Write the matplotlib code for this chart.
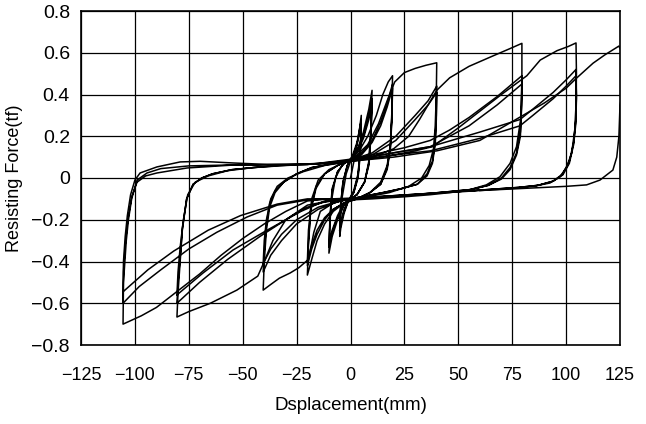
import matplotlib
matplotlib.use("Agg")
import matplotlib.pyplot as plt

# ---- data (displacement mm, resisting force tf), traced per amplitude group ----
disp_a5 = [0, 2, 4, 5, 4.6, 3.5, 1.5, -1, -3, -4.5, -5,
           -4.6, -3.5, -1.5, 1, 3, 4.5, 5, 4.6, 3.5, 1.5, -1, -3, -4.5, -5,
           -4.6, -3.5, -1.5, 1, 3, 4.5, 5, 4.6, 3.5, 1.5, -1, -3, -4.5, -5]
force_a5 = [0, 0.1, 0.22, 0.3, 0.15, 0.02, -0.06, -0.11, -0.17, -0.24, -0.28,
            -0.14, -0.02, 0.06, 0.11, 0.17, 0.25, 0.28, 0.14, 0.01, -0.07, -0.11, -0.16, -0.22, -0.26,
            -0.13, -0.02, 0.06, 0.1, 0.16, 0.23, 0.26, 0.12, 0.0, -0.07, -0.11, -0.15, -0.21, -0.25]

disp_a10 = [-5, -4, -2, 0, 3, 6, 8.5, 10,
            9.5, 8.5, 6.5, 3, 0, -3, -6, -8.5, -10,
            -9.5, -8.5, -6, -3, 0, 3, 6, 8.5, 10,
            9.5, 8.5, 6.5, 3, 0, -3, -6, -8.5, -10,
            -9.5, -8.5, -6, -3, 0, 3, 6, 8.5, 10,
            9.5, 8.5, 6.5, 3, 0, -3, -6, -8.5, -10]
force_a10 = [-0.25, -0.1, 0.02, 0.08, 0.13, 0.22, 0.33, 0.42,
             0.25, 0.08, -0.02, -0.08, -0.1, -0.13, -0.2, -0.28, -0.36,
             -0.2, -0.06, 0.03, 0.07, 0.09, 0.13, 0.2, 0.3, 0.38,
             0.22, 0.07, -0.02, -0.08, -0.1, -0.13, -0.19, -0.26, -0.33,
             -0.18, -0.05, 0.03, 0.07, 0.09, 0.12, 0.19, 0.28, 0.36,
             0.2, 0.06, -0.02, -0.08, -0.1, -0.12, -0.18, -0.25, -0.31]

disp_a20 = [-10, -9, -7, -4, 0, 4, 8, 12, 15, 17.5, 19.5,
            19.2, 18.5, 17, 14, 9, 3, -3, -8, -12, -15.5, -18, -20,
            -19.5, -18.5, -16, -12, -6, 0, 5, 10, 14, 17, 19.5,
            19.2, 18.5, 17, 14, 9, 3, -3, -8, -12, -15.5, -18, -20,
            -19.5, -18.5, -16, -12, -6, 0, 5, 10, 14, 17, 19.5,
            19.2, 18.5, 17, 14, 9, 3, -3, -8, -12, -15.5, -18, -20]
force_a20 = [-0.31, -0.12, 0.0, 0.06, 0.09, 0.13, 0.2, 0.3, 0.4, 0.46, 0.49,
             0.32, 0.16, 0.06, -0.02, -0.07, -0.1, -0.12, -0.16, -0.22, -0.3, -0.39, -0.465,
             -0.32, -0.16, -0.05, 0.02, 0.06, 0.085, 0.12, 0.18, 0.27, 0.36, 0.45,
             0.3, 0.15, 0.05, -0.03, -0.07, -0.1, -0.12, -0.15, -0.2, -0.27, -0.34, -0.42,
             -0.3, -0.15, -0.04, 0.02, 0.06, 0.085, 0.11, 0.17, 0.25, 0.34, 0.43,
             0.28, 0.14, 0.04, -0.03, -0.07, -0.1, -0.12, -0.15, -0.19, -0.25, -0.32, -0.4]

disp_a40 = [-20, -19.5, -18, -15, -10, -4, 2, 8, 13, 17, 20.5, 25, 30, 35, 40,
            39.8, 39.3, 38.5, 36.5, 33, 27, 18, 8, 0, -8, -14, -17, -19.5, -24, -28, -33, -37, -40.5,
            -40, -39, -37.5, -35, -31, -25, -18, -10, 0, 10, 21, 30, 36, 40,
            39.8, 39.3, 38, 35.5, 31, 24, 15, 5, -5, -15, -25, -32, -37, -40.5,
            -40, -39, -37.5, -35, -31, -25, -18, -10, 0, 10, 21, 30, 36, 40,
            39.8, 39.3, 38, 35.5, 31, 24, 15, 5, -5, -15, -25, -32, -37, -40.5]
force_a40 = [-0.4, -0.25, -0.1, -0.01, 0.04, 0.07, 0.1, 0.16, 0.26, 0.37, 0.46, 0.505, 0.525, 0.54, 0.552,
             0.4, 0.25, 0.14, 0.06, 0.0, -0.04, -0.07, -0.09, -0.1, -0.12, -0.16, -0.26, -0.39, -0.43, -0.455, -0.48, -0.51, -0.537,
             -0.4, -0.25, -0.14, -0.07, -0.02, 0.02, 0.05, 0.065, 0.085, 0.12, 0.2, 0.3, 0.37, 0.44,
             0.3, 0.18, 0.08, 0.02, -0.03, -0.05, -0.07, -0.09, -0.11, -0.15, -0.22, -0.3, -0.37, -0.45,
             -0.35, -0.22, -0.12, -0.06, -0.02, 0.02, 0.05, 0.065, 0.08, 0.11, 0.18, 0.28, 0.35, 0.41,
             0.28, 0.16, 0.07, 0.01, -0.03, -0.05, -0.07, -0.09, -0.11, -0.14, -0.2, -0.27, -0.34, -0.41]

disp_a80 = [-40.5, -40, -39, -37, -34, -29, -22, -12, 0, 10, 20, 27, 32, 36, 40, 46, 55, 65, 74, 79.5,
            79.5, 79.2, 77, 74, 69.3, 63, 55, 46, 37, 25, 10, 0, -10, -20, -30, -36, -40, -43, -52.7, -65, -75, -80.5,
            -80, -79, -78, -76, -73, -69, -64, -55, -45, -32, -15, 0, 14, 25, 37, 46, 55, 68, 79.5,
            79.3, 78.8, 77, 74, 70, 64, 56, 46, 30, 15, 0, -12, -20, -27, -42, -57, -70, -80.5,
            -80, -79, -78, -76, -73, -69, -64, -55, -45, -32, -15, 0, 14, 25, 37, 46, 55, 68, 79.5,
            79.3, 78.8, 77, 74, 70, 64, 56, 46, 30, 15, 0, -12, -23, -38.7, -54.5, -68.4, -80.5]
force_a80 = [-0.41, -0.3, -0.2, -0.1, -0.04, 0.0, 0.03, 0.06, 0.08, 0.1, 0.14, 0.2, 0.28, 0.35, 0.42, 0.48, 0.535, 0.58, 0.62, 0.645,
             0.5, 0.3, 0.15, 0.07, 0.006, -0.033, -0.057, -0.07, -0.08, -0.09, -0.1, -0.105, -0.11, -0.13, -0.2, -0.3, -0.4, -0.47, -0.537, -0.6, -0.64, -0.666,
             -0.55, -0.4, -0.25, -0.1, -0.03, 0.0, 0.02, 0.04, 0.05, 0.062, 0.07, 0.09, 0.12, 0.145, 0.18, 0.23, 0.29, 0.39, 0.49,
             0.35, 0.22, 0.12, 0.05, 0.0, -0.035, -0.055, -0.065, -0.08, -0.09, -0.1, -0.115, -0.14, -0.18, -0.28, -0.39, -0.5, -0.6,
             -0.5, -0.38, -0.24, -0.1, -0.03, 0.0, 0.02, 0.04, 0.05, 0.06, 0.068, 0.085, 0.11, 0.13, 0.15, 0.2, 0.25, 0.35, 0.45,
             0.33, 0.2, 0.11, 0.04, -0.005, -0.035, -0.055, -0.065, -0.08, -0.09, -0.1, -0.11, -0.16, -0.25, -0.345, -0.455, -0.56]

disp_a105 = [-80.5, -80, -79, -77.5, -75.5, -72, -66, -57, -45, -30, -15, 0, 15, 30, 38, 50, 60, 70, 81.8, 88, 95.8, 101, 104.6,
             104.8, 104.6, 104, 102.6, 100.3, 97.2, 92.5, 84.7, 75, 60, 45, 30, 15, 0, -10, -20, -30, -40, -50, -60, -70, -80, -90, -97, -105.5,
             -105.3, -104.5, -104, -103, -101.5, -99, -94.4, -88, -75, -57, -40, -20, 0, 20, 37, 60, 78.6, 84.6, 94, 100, 104.6,
             104.8, 104.5, 103.5, 101.5, 98.5, 94, 87, 78, 60, 45, 30, 15, 0, -10, -20, -34, -48, -62, -75, -88, -98, -105.5,
             -105.3, -104.5, -103.3, -101.5, -99, -95, -89.8, -75.8, -54.5, -30, -10, 0, 20, 37, 60, 78.6, 84.6, 94, 100, 104.6,
             104.8, 104.5, 103.5, 101.5, 98.5, 94, 87, 78, 60, 45, 30, 15, 0, -10, -20, -34, -51, -66, -82, -94, -105.5]
force_a105 = [-0.56, -0.45, -0.33, -0.2, -0.08, -0.02, 0.01, 0.035, 0.05, 0.06, 0.068, 0.08, 0.1, 0.13, 0.15, 0.24, 0.32, 0.4, 0.49, 0.565, 0.61, 0.63, 0.647,
              0.5, 0.35, 0.23, 0.12, 0.054, 0.006, -0.024, -0.04, -0.05, -0.06, -0.07, -0.08, -0.09, -0.1, -0.1, -0.11, -0.16, -0.22, -0.29, -0.37, -0.46, -0.54, -0.62, -0.66, -0.7,
              -0.5, -0.38, -0.3, -0.2, -0.1, -0.01, 0.024, 0.045, 0.058, 0.062, 0.064, 0.065, 0.085, 0.12, 0.15, 0.22, 0.28, 0.33, 0.41, 0.47, 0.52,
              0.4, 0.28, 0.17, 0.08, 0.02, -0.015, -0.035, -0.045, -0.058, -0.068, -0.078, -0.088, -0.098, -0.1, -0.105, -0.13, -0.187, -0.26, -0.34, -0.44, -0.52, -0.6,
              -0.45, -0.32, -0.2, -0.09, -0.02, 0.01, 0.024, 0.048, 0.062, 0.065, 0.07, 0.08, 0.11, 0.13, 0.19, 0.25, 0.3, 0.38, 0.44, 0.49,
              0.38, 0.26, 0.16, 0.07, 0.015, -0.015, -0.035, -0.045, -0.058, -0.068, -0.078, -0.088, -0.098, -0.1, -0.1, -0.125, -0.18, -0.25, -0.35, -0.44, -0.545]

disp_a125 = [-105.5, -105.3, -104.5, -103.5, -102, -100, -97.6, -89.8, -79, -69.7, -54.5, -38.7, -20, 0, 20, 40, 60,
             80, 90, 100, 105, 112.5, 118, 124.5, 126, 126, 125, 124.5, 123.5, 121.7, 115.7, 109.5, 100, 80, 60]
force_a125 = [-0.545, -0.4, -0.28, -0.18, -0.08, -0.01, 0.024, 0.053, 0.077, 0.08, 0.072, 0.065, 0.065, 0.08, 0.1, 0.13, 0.18,
              0.3, 0.36, 0.43, 0.48, 0.55, 0.59, 0.632, 0.6, 0.4, 0.35, 0.2, 0.1, 0.038, -0.01, -0.033, -0.04, -0.05, -0.06]

x_ticks = [-125, -100, -75, -50, -25, 0, 25, 50, 75, 100, 125]
y_ticks = [-0.8, -0.6, -0.4, -0.2, 0, 0.2, 0.4, 0.6, 0.8]
y_tick_labels = ["\u22120.8", "\u22120.6", "\u22120.4", "\u22120.2", "0", "0.2", "0.4", "0.6", "0.8"]
x_tick_labels = ["\u2212125", "\u2212100", "\u221275", "\u221250", "\u221225", "0", "25", "50", "75", "100", "125"]

groups = [(disp_a5, force_a5), (disp_a10, force_a10), (disp_a20, force_a20),
          (disp_a40, force_a40), (disp_a80, force_a80), (disp_a105, force_a105),
          (disp_a125, force_a125)]

plt.rcParams['font.family'] = ['Liberation Sans', 'DejaVu Sans']

fig = plt.figure(figsize=(6.46, 4.24), dpi=100)
ax = fig.add_axes([81/646, 1-345/424, (620-81)/646, (345-11)/424])

for xs, ys in groups:
    ax.plot(xs, ys, color='black', lw=1.1, solid_joinstyle='round')

ax.set_xlim(-125, 125)
ax.set_ylim(-0.8, 0.8)
ax.set_xticks(x_ticks)
ax.set_xticklabels(x_tick_labels)
ax.set_yticks(y_ticks)
ax.set_yticklabels(y_tick_labels)
ax.grid(True, color='black', lw=0.9)
ax.set_axisbelow(True)
ax.tick_params(axis='x', length=0, labelsize=13, pad=16)
ax.tick_params(axis='y', length=0, labelsize=14, pad=8)
for s in ax.spines.values():
    s.set_linewidth(1.2)
    s.set_color('black')

ax.set_xlabel("Dsplacement(mm)", fontsize=13.5, labelpad=9)
ax.set_ylabel("Resisting Force(tf)", fontsize=13, labelpad=6)

fig.savefig("out.png", dpi=100)
